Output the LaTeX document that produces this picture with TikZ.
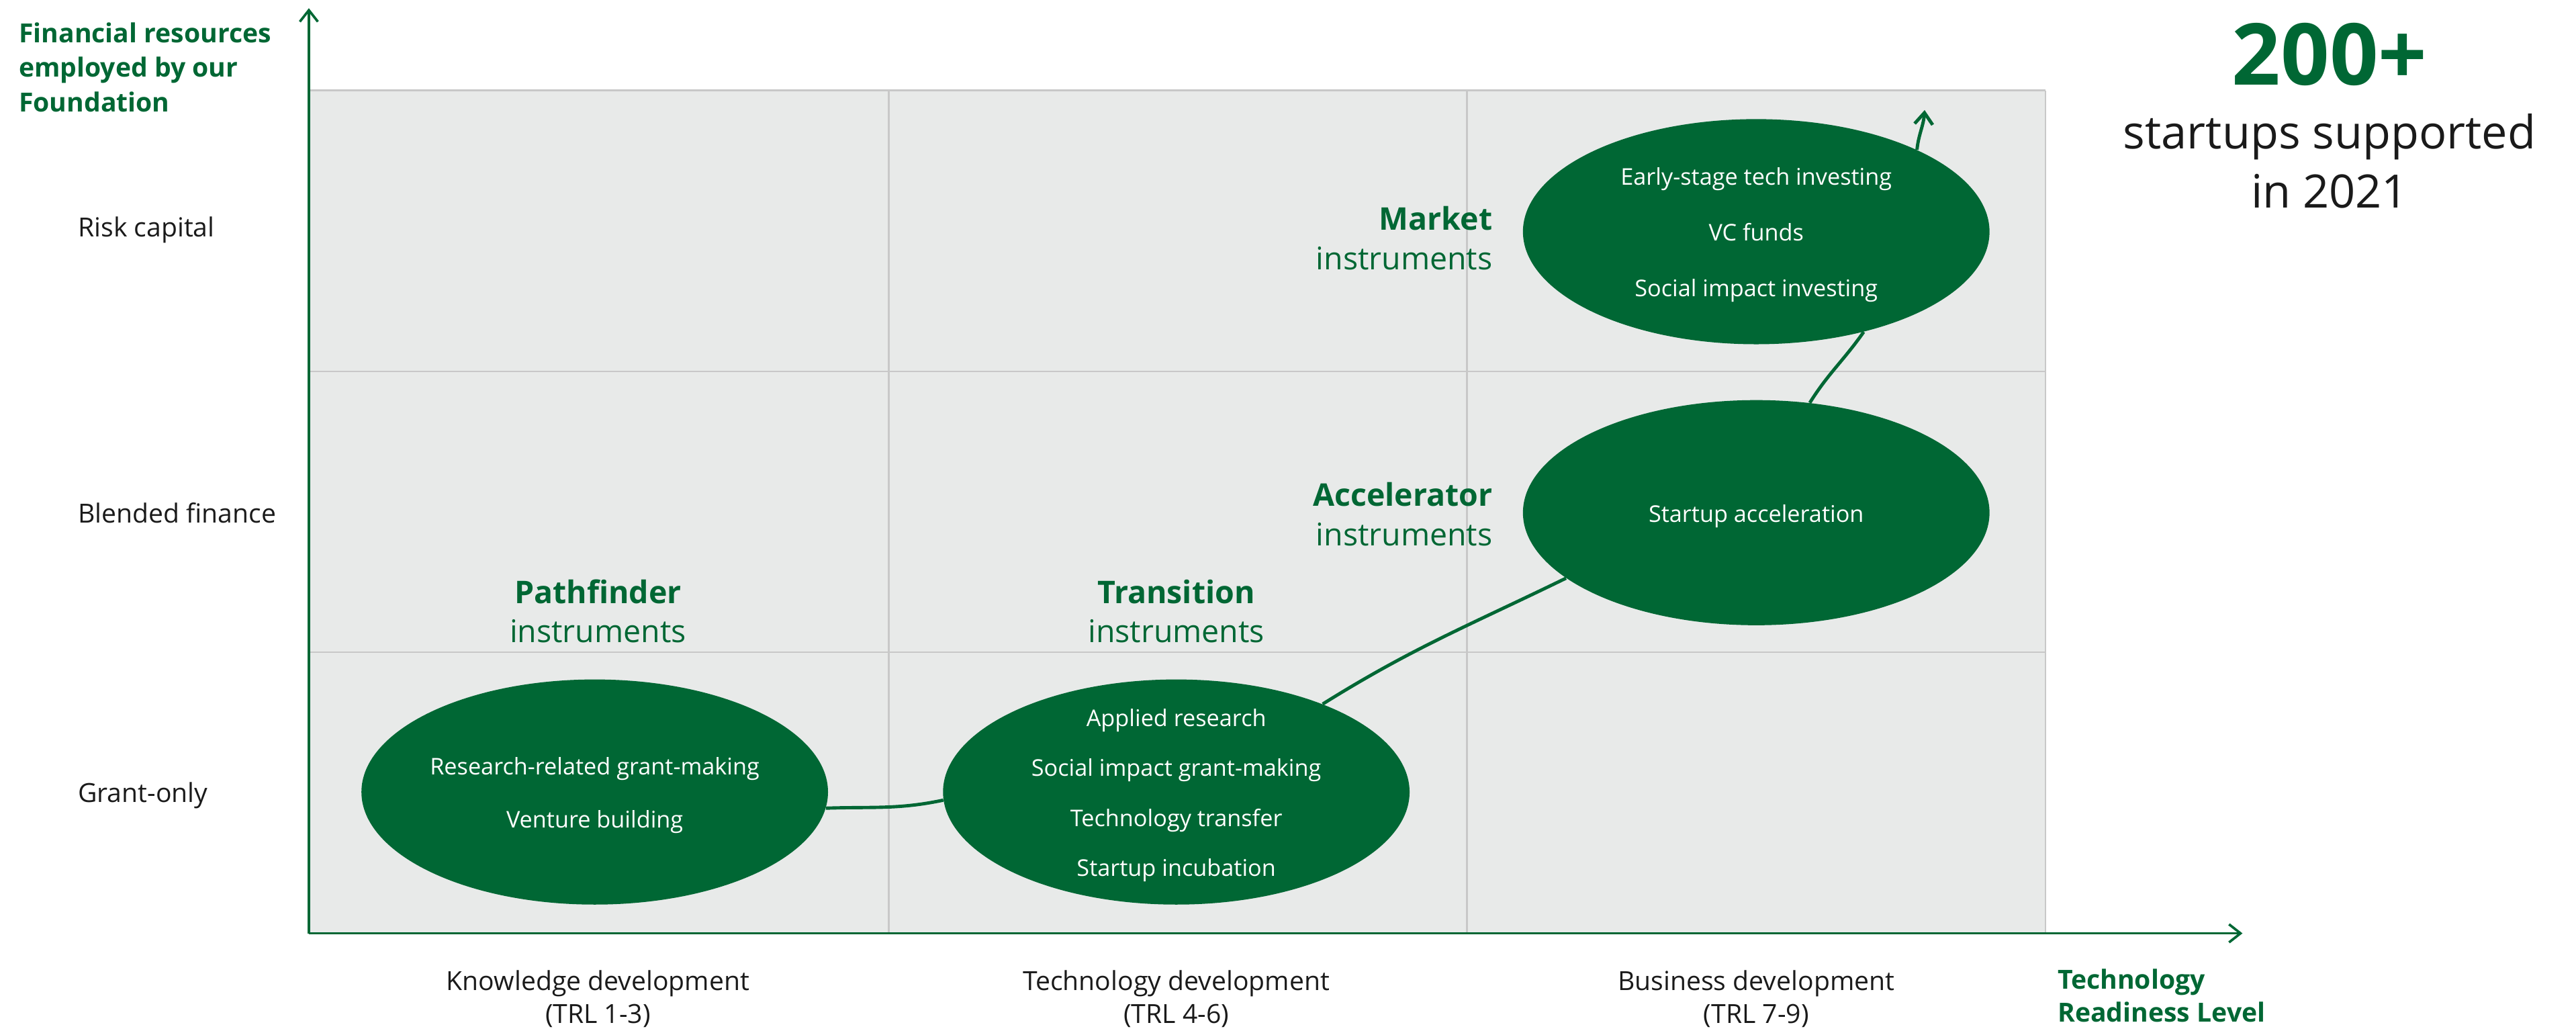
\documentclass[tikz,border=0pt]{standalone}
\usepackage{fontspec}
\setmainfont{Open Sans}
\usetikzlibrary{arrows.meta,shapes.geometric,positioning}

\definecolor{fgreen}{RGB}{0,103,52}
\definecolor{cellgrey}{RGB}{232,234,233}
\definecolor{gridgrey}{RGB}{200,200,200}
\definecolor{txtgrey}{RGB}{26,26,26}

\begin{document}
\begin{tikzpicture}[x=1pt, y=1pt,
    >={Straight Barb[length=7pt,width=11pt]},
    axis/.style={draw=fgreen, line width=1.5pt, ->},
    flow/.style={draw=fgreen, line width=2pt},
    instr/.style={ellipse, fill=fgreen, minimum width=284pt, minimum height=137pt, inner sep=0pt},
    itext/.style={text=white, align=center, yshift=-2pt},
    rowlbl/.style={text=txtgrey, anchor=west, font=\fontsize{16}{20}\selectfont},
    collbl/.style={text=txtgrey, align=center, font=\fontsize{16}{20}\selectfont},
    kind/.style={text=fgreen, font=\fontsize{19}{24}\selectfont},
  ]
    \useasboundingbox (0,0) rectangle (1568,626);

    % Grid
    \fill[cellgrey] (188,58) rectangle (1245,571);
    \foreach \x in {541,893,1245}
        \draw[gridgrey, line width=1pt] (\x,58) -- (\x,571);
    \foreach \y in {229,400,571}
        \draw[gridgrey, line width=1pt] (188,\y) -- (1245,\y);

    % Axes
    \coordinate (origin) at (188,58);
    \coordinate (ytop)   at (188,621);
    \coordinate (xend)   at (1365,58);
    \draw[axis] (origin) -- (ytop);
    \draw[axis] (origin) -- (xend);

    % Axis titles
    \node [text=fgreen, anchor=west, align=left, font=\bfseries\fontsize{16}{21}\selectfont]
        (ytitle) at (8,585) {Financial resources\\employed by our\\Foundation};
    \node [text=fgreen, anchor=west, align=left, font=\bfseries\fontsize{16}{20}\selectfont]
        (xtitle) at (1249,20) {Technology\\Readiness Level};

    % Rows
    \node [rowlbl] (risk)    at (44,486) {Risk capital};
    \node [rowlbl] (blended) at (44,314) {Blended finance};
    \node [rowlbl] (grant)   at (44,142) {Grant-only};

    % Columns
    \node [collbl] (know) at (364,18)  {Knowledge development\\(TRL 1-3)};
    \node [collbl] (tech) at (716,18)  {Technology development\\(TRL 4-6)};
    \node [collbl] (busi) at (1069,18) {Business development\\(TRL 7-9)};

    % Instruments
    \node [instr] (pf) at (362,144)  {};
    \node [instr] (tr) at (716,144)  {};
    \node [instr] (ac) at (1069,314) {};
    \node [instr] (mk) at (1069,485) {};

    \node [itext, font=\fontsize{14}{32}\selectfont] (pftext) at (pf)
        {Research-related grant-making\\Venture building};
    \node [itext, font=\fontsize{14}{30.3}\selectfont] (trtext) at (tr)
        {Applied research\\Social impact grant-making\\Technology transfer\\Startup incubation};
    \node [itext, font=\fontsize{14}{17}\selectfont] (actext) at (ac) {Startup acceleration};
    \node [itext, font=\fontsize{14}{34}\selectfont] (mktext) at (mk)
        {Early-stage tech investing\\VC funds\\Social impact investing};

    \node [kind, align=center] (pfkind) at (364,254) {\textbf{Pathfinder}\\instruments};
    \node [kind, align=center] (trkind) at (716,254) {\textbf{Transition}\\instruments};
    \node [kind, align=right, anchor=east] (ackind) at (912,313) {\textbf{Accelerator}\\instruments};
    \node [kind, align=right, anchor=east] (mkkind) at (912,481) {\textbf{Market}\\instruments};

    % Paths
    \coordinate (tip) at (1171.5,559);
    \draw [flow] (pf.-4)  to [out=2,  in=192] (tr.182);
    \draw [flow] (tr.31)  to [out=32, in=206] (ac.199);
    \draw [flow] (ac.64)  to [out=58, in=235] (mk.-43);
    \draw [flow, ->] (mk.27) to [out=84, in=-94] (tip);

    % Headline
    \node [text=fgreen, font=\bfseries\fontsize{52}{60}\selectfont] (count) at (1418,593) {200+};
    \node [text=txtgrey, align=center, font=\fontsize{28}{36}\selectfont] (countlbl) at (1418,528)
        {startups supported\\in 2021};
\end{tikzpicture}
\end{document}
